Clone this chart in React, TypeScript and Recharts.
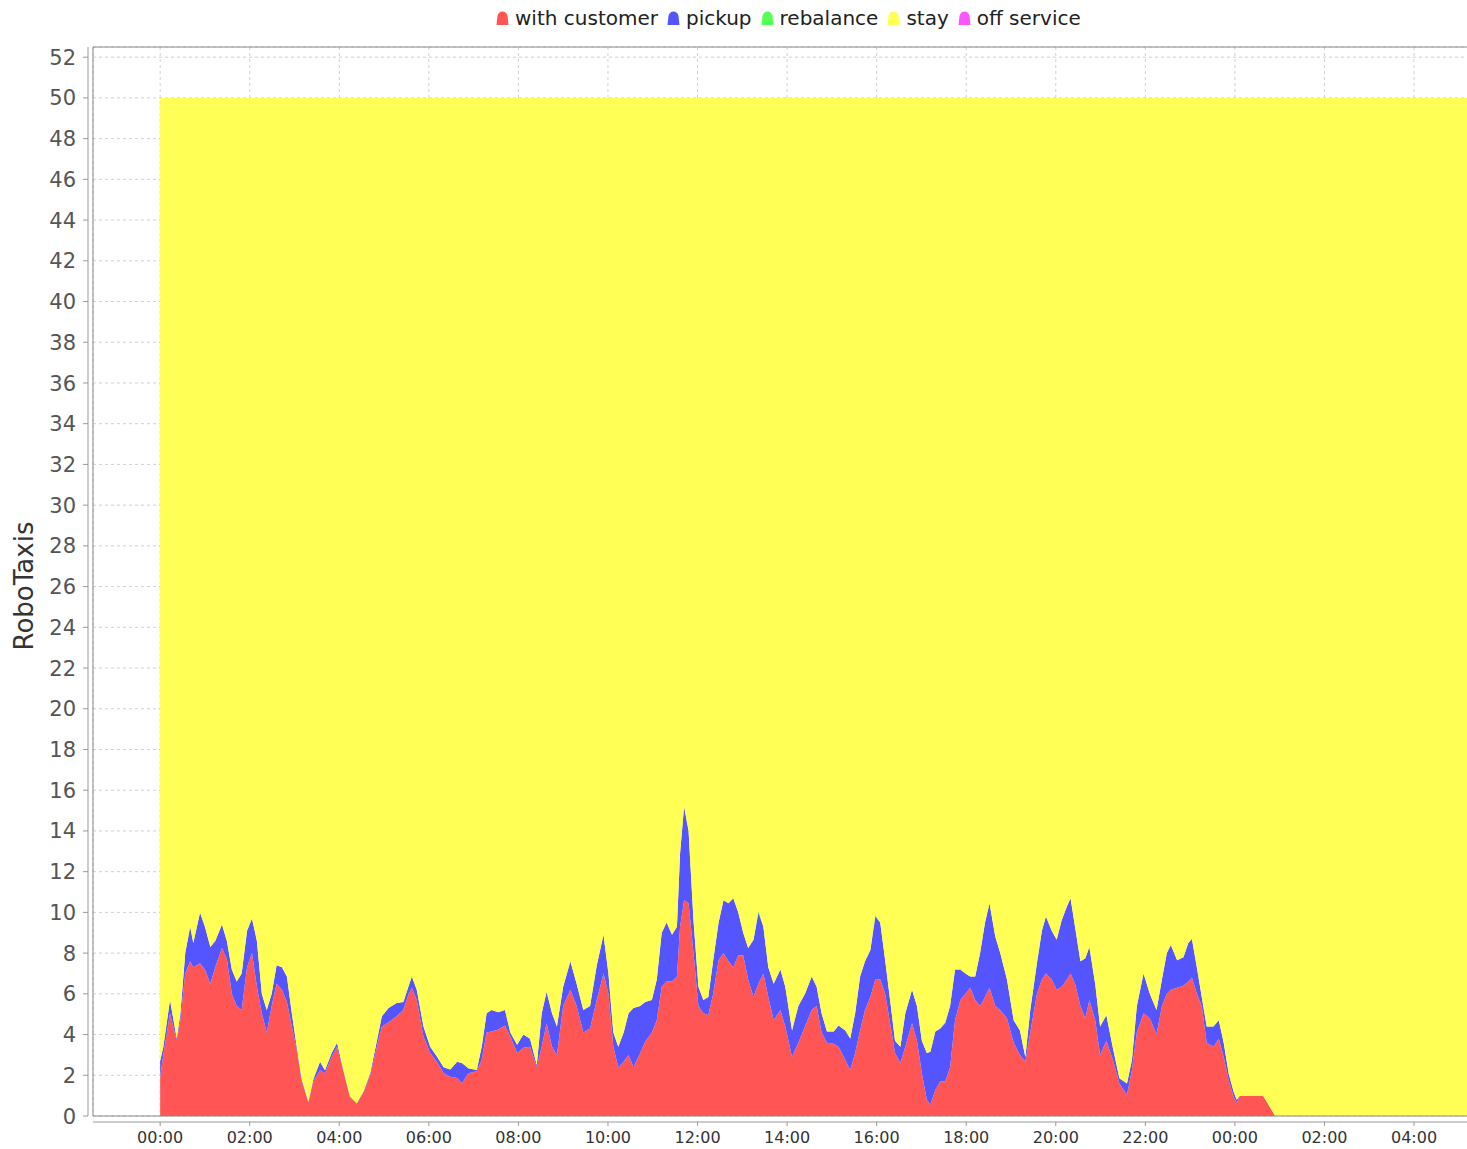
import React from 'react';
import { AreaChart, Area, XAxis, YAxis, CartesianGrid, ReferenceArea } from 'recharts';

const FONT = '"DejaVu Sans", Verdana, sans-serif';
const FLEET_SIZE = 50;

// time in hours since 00:00 of day 1
const hours = [
  0, 0.07, 0.22, 0.37, 0.45, 0.56, 0.67, 0.74, 0.89, 1.0,
  1.12, 1.23, 1.38, 1.49, 1.6, 1.71, 1.82, 1.94, 2.05, 2.16,
  2.27, 2.38, 2.49, 2.6, 2.72, 2.83, 2.94, 3.05, 3.16, 3.31,
  3.42, 3.57, 3.68, 3.83, 3.95, 4.09, 4.24, 4.39, 4.54, 4.69,
  4.84, 4.95, 5.1, 5.28, 5.43, 5.55, 5.62, 5.73, 5.88, 6.03,
  6.18, 6.33, 6.48, 6.63, 6.74, 6.88, 7.07, 7.18, 7.29, 7.4,
  7.55, 7.7, 7.82, 7.97, 8.11, 8.26, 8.41, 8.52, 8.63, 8.75,
  8.86, 9.0, 9.16, 9.3, 9.45, 9.6, 9.75, 9.9, 10.01, 10.12,
  10.23, 10.35, 10.46, 10.57, 10.72, 10.83, 10.98, 11.09, 11.2, 11.31,
  11.43, 11.54, 11.61, 11.7, 11.8, 11.91, 12.02, 12.13, 12.24, 12.35,
  12.47, 12.58, 12.69, 12.8, 12.91, 13.02, 13.13, 13.25, 13.36, 13.47,
  13.58, 13.7, 13.85, 13.96, 14.11, 14.25, 14.4, 14.55, 14.66, 14.77,
  14.89, 15.04, 15.15, 15.3, 15.41, 15.52, 15.63, 15.74, 15.86, 15.97,
  16.08, 16.19, 16.3, 16.41, 16.53, 16.64, 16.79, 16.9, 17.01, 17.12,
  17.2, 17.31, 17.42, 17.53, 17.64, 17.75, 17.87, 17.98, 18.09, 18.2,
  18.31, 18.42, 18.52, 18.65, 18.76, 18.91, 19.06, 19.2, 19.32, 19.43,
  19.58, 19.69, 19.78, 19.91, 20.02, 20.13, 20.25, 20.33, 20.43, 20.55,
  20.66, 20.75, 20.88, 20.99, 21.13, 21.27, 21.42, 21.59, 21.7, 21.81,
  21.96, 22.1, 22.25, 22.37, 22.48, 22.57, 22.71, 22.85, 22.96, 23.04,
  23.15, 23.26, 23.37, 23.52, 23.64, 23.75, 23.86, 23.97, 24.04, 24.11,
  24.63, 24.9, 29.25,
];

const withCustomer = [
  1.9, 3.0, 5.05, 3.7, 4.7, 7.0, 7.6, 7.3, 7.5, 7.2,
  6.5, 7.3, 8.25, 7.7, 6.0, 5.4, 5.2, 7.3, 8.0, 6.35,
  5.05, 4.1, 5.4, 6.5, 6.2, 5.6, 4.4, 3.25, 1.7, 0.65,
  1.7, 2.26, 2.1, 2.9, 3.4, 2.2, 0.9, 0.6, 1.15, 2.0,
  3.4, 4.4, 4.6, 4.9, 5.2, 6.0, 6.3, 5.7, 3.9, 3.1,
  2.67, 2.1, 1.93, 1.87, 1.6, 2.1, 2.2, 2.75, 4.1, 4.15,
  4.25, 4.45, 3.9, 3.1, 3.35, 3.4, 2.4, 3.4, 4.55, 3.4,
  3.0, 5.4, 6.2, 5.4, 4.1, 4.3, 5.7, 7.0, 6.0, 3.4,
  2.4, 2.67, 3.0, 2.4, 3.1, 3.65, 4.1, 4.7, 6.35, 6.6,
  6.6, 6.85, 9.3, 10.6, 10.45, 8.0, 5.4, 5.05, 4.95, 6.0,
  7.65, 8.0, 7.6, 7.3, 7.9, 7.9, 6.7, 5.85, 6.5, 7.0,
  5.85, 4.7, 5.2, 4.4, 2.9, 3.6, 4.4, 5.2, 5.4, 4.1,
  3.6, 3.55, 3.4, 2.75, 2.26, 3.1, 4.2, 5.2, 5.85, 6.7,
  6.7, 6.0, 4.55, 3.1, 2.6, 3.4, 4.55, 3.7, 2.1, 0.8,
  0.55, 1.28, 1.7, 1.7, 2.4, 4.7, 5.7, 6.0, 6.3, 5.7,
  5.4, 5.85, 6.3, 5.4, 5.2, 4.8, 3.6, 3.0, 2.67, 4.1,
  6.0, 6.7, 7.0, 6.7, 6.2, 6.35, 6.7, 7.0, 6.5, 5.4,
  4.8, 5.7, 4.7, 3.0, 3.7, 2.8, 1.6, 1.03, 2.26, 4.1,
  5.05, 4.8, 4.0, 5.4, 6.0, 6.2, 6.3, 6.4, 6.6, 6.8,
  6.0, 5.4, 3.6, 3.4, 3.8, 2.9, 1.77, 0.95, 0.65, 1.0,
  1.0, 0, 0,
];

const pickup = [
  0.8, 0.4, 0.65, 0.1, 0.3, 1.0, 1.7, 1.2, 2.5, 2.1,
  1.8, 1.3, 1.15, 0.9, 1.2, 1.2, 1.8, 1.8, 1.7, 2.25,
  0.95, 1.1, 0.6, 0.9, 1.1, 1.25, 0.65, 0.15, 0.1, 0.05,
  0.1, 0.4, 0.15, 0.2, 0.2, 0.06, 0.05, 0.03, 0.05, 0.1,
  0.3, 0.5, 0.7, 0.65, 0.4, 0.4, 0.55, 0.5, 0.5, 0.3,
  0.25, 0.3, 0.35, 0.8, 1.0, 0.25, 0.06, 0.65, 0.95, 1.05,
  0.85, 0.75, 0.2, 0.4, 0.65, 0.4, 0.1, 1.65, 1.55, 1.65,
  1.4, 0.95, 1.4, 1.1, 1.1, 1.1, 1.7, 1.9, 1.0, 0.7,
  1.0, 1.43, 2.05, 2.9, 2.3, 1.95, 1.6, 2.0, 2.65, 2.9,
  2.3, 2.45, 3.6, 4.6, 3.55, 1.6, 0.95, 0.65, 0.9, 1.65,
  1.85, 2.6, 2.85, 3.4, 2.1, 1.1, 1.55, 2.8, 3.5, 2.3,
  1.45, 1.8, 2.0, 1.95, 1.3, 1.8, 1.6, 1.65, 0.95, 0.95,
  0.55, 0.6, 1.05, 1.45, 1.55, 1.95, 2.65, 2.4, 2.3, 3.1,
  2.8, 1.65, 1.15, 0.6, 0.8, 1.65, 1.65, 1.7, 1.6, 2.3,
  2.6, 2.87, 2.6, 2.85, 3.0, 2.5, 1.5, 1.0, 0.55, 1.15,
  2.6, 3.65, 4.15, 3.4, 2.8, 1.9, 1.1, 1.2, 0.23, 1.1,
  1.5, 2.4, 2.8, 2.4, 2.45, 3.25, 3.6, 3.7, 2.8, 2.2,
  2.95, 2.6, 1.8, 1.4, 1.25, 0.6, 0.25, 0.57, 0.49, 1.3,
  1.95, 1.2, 1.2, 1.3, 2.0, 2.2, 1.35, 1.4, 1.9, 1.9,
  1.3, 0.45, 0.8, 1.0, 0.9, 0.7, 0.33, 0.25, 0.15, 0,
  0, 0, 0,
];

// rebalance is almost always zero; a few tiny slivers
const rebalanceHours = [13.36, 15.97, 17.53, 19.58];
const rebalanceValues = [0.1, 0.08, 0.08, 0.08];

const seriesKeys = ['customer', 'pickup', 'rebalance', 'stay', 'offService'];
const seriesNames = ['with customer', 'pickup', 'rebalance', 'stay', 'off service'];
const seriesColors = ['#FF5555', '#5555FF', '#55FF55', '#FFFF55', '#FF55FF'];

const xTicks = [0, 2, 4, 6, 8, 10, 12, 14, 16, 18, 20, 22, 24, 26, 28];
const yTicks = [0, 2, 4, 6, 8, 10, 12, 14, 16, 18, 20, 22, 24, 26, 28, 30, 32, 34, 36, 38, 40, 42, 44, 46, 48, 50, 52];
const X_DOMAIN: [number, number] = [-1.5, 29.25];
const Y_DOMAIN: [number, number] = [0, 52.5];

const data = hours.map((t, i) => {
  const c = withCustomer[i];
  const p = pickup[i];
  const ri = rebalanceHours.indexOf(t);
  const r = ri >= 0 ? rebalanceValues[ri] : 0;
  return { t, customer: c, pickup: p, rebalance: r, stay: FLEET_SIZE - c - p - r, offService: 0 };
});

const fmtHour = (h: number) => {
  const hh = ((h % 24) + 24) % 24;
  return `${String(hh).padStart(2, '0')}:00`;
};

const YTick = (props: any) => {
  const { x, y, payload } = props;
  return (
    <g>
      <line x1={x - 10} x2={x - 5} y1={y} y2={y} stroke="#999" />
      <text x={x - 17} y={y} dy="0.36em" textAnchor="end" fontSize={21} fill="#555" fontFamily={FONT}>
        {payload.value}
      </text>
    </g>
  );
};

const XTick = (props: any) => {
  const { x, y, payload } = props;
  return (
    <g>
      <line x1={x} x2={x} y1={y + 6} y2={y + 10} stroke="#999" />
      <text x={x} y={y + 27} textAnchor="middle" fontSize={16} fill="#333" fontFamily={FONT}>
        {fmtHour(payload.value)}
      </text>
    </g>
  );
};

const Marker = ({ color }: { color: string }) => (
  <svg width={13} height={14} style={{ verticalAlign: 'baseline', marginRight: 6 }}>
    <path d="M0.5,14 L1.5,5 Q2.5,0.5 6.5,0.5 Q10.5,0.5 11.5,5 L12.5,14 Z" fill={color} />
  </svg>
);

const LegendBar = () => (
  <div
    style={{
      position: 'absolute',
      left: 496,
      top: 6,
      fontFamily: FONT,
      fontSize: 20,
      lineHeight: '24px',
      color: '#222',
      whiteSpace: 'nowrap',
    }}
  >
    {seriesNames.map((name, i) => (
      <span key={name} style={{ marginRight: 9 }}>
        <Marker color={seriesColors[i]} />
        {name}
      </span>
    ))}
  </div>
);

export default function App() {
  return (
    <div style={{ position: 'absolute', left: 0, top: 0, width: 1467, height: 1149, overflow: 'hidden', background: '#fff' }}>
      <AreaChart width={1470} height={1149} data={data} margin={{ top: 47, right: 0, bottom: 0, left: 0 }}>
        <CartesianGrid stroke="#d2d2d2" strokeDasharray="3 3" />
        <XAxis
          dataKey="t"
          type="number"
          domain={X_DOMAIN}
          allowDataOverflow
          ticks={xTicks}
          interval={0}
          height={33}
          tickSize={0}
          tickMargin={0}
          tickLine={false}
          tick={<XTick />}
          axisLine={{ stroke: '#999', transform: 'translate(0,6)' } as any}
        />
        <YAxis
          type="number"
          domain={Y_DOMAIN}
          allowDataOverflow
          ticks={yTicks}
          interval={0}
          width={93}
          tickSize={0}
          tickMargin={0}
          tickLine={false}
          tick={<YTick />}
          axisLine={{ stroke: '#999', transform: 'translate(-5,0)' } as any}
          label={{
            content: () => (
              <text x={33} y={586} transform="rotate(-90 33 586)" textAnchor="middle" fontSize={26} fill="#333" fontFamily={FONT}>
                RoboTaxis
              </text>
            ),
          }}
        />
        {seriesKeys.map((k, i) => (
          <Area
            key={k}
            type="linear"
            dataKey={k}
            name={seriesNames[i]}
            stackId="fleet"
            stroke="none"
            fill={seriesColors[i]}
            fillOpacity={1}
            dot={false}
            activeDot={false}
            isAnimationActive={false}
          />
        ))}
        <ReferenceArea
          x1={X_DOMAIN[0]}
          x2={X_DOMAIN[1]}
          y1={Y_DOMAIN[0]}
          y2={Y_DOMAIN[1]}
          fill="none"
          stroke="#888"
          strokeWidth={1}
          ifOverflow="visible"
        />
      </AreaChart>
      <LegendBar />
    </div>
  );
}
